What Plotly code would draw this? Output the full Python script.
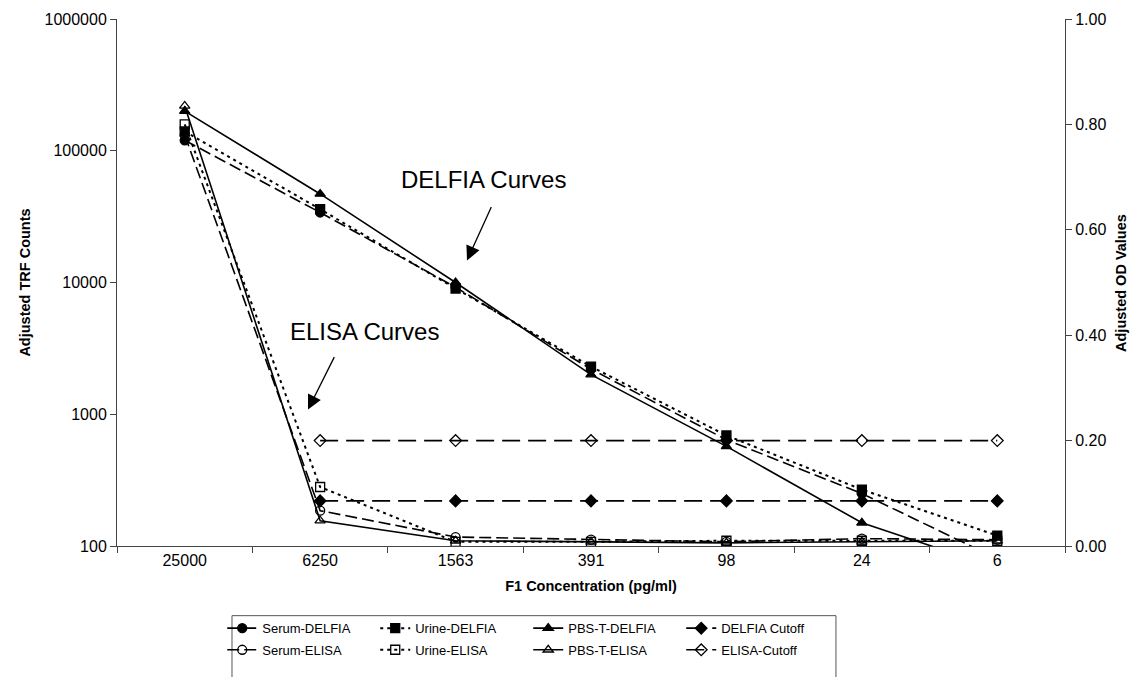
import plotly.graph_objects as go

# ---------------- data ----------------
categories = ["25000", "6250", "1563", "391", "98", "24", "6"]

serum_delfia = [120000, 34000, 9200, 2200, 640, 250, 80]
urine_delfia = [140000, 36000, 9000, 2300, 690, 268, 120]
pbst_delfia = [200000, 47000, 10000, 2000, 570, 150, 68]
delfia_cutoff = [None, 220, 220, 220, 220, 220, 220]

serum_elisa = [0.78, 0.067, 0.017, 0.012, 0.008, 0.014, 0.012]
urine_elisa = [0.80, 0.112, 0.008, 0.008, 0.010, 0.010, 0.010]
pbst_elisa = [0.835, 0.048, 0.010, 0.008, 0.006, 0.008, 0.010]
elisa_cutoff = [None, 0.20, 0.20, 0.20, 0.20, 0.20, 0.20]

left_tickvals = [100, 1000, 10000, 100000, 1000000]
left_ticktext = ["100", "1000", "10000", "100000", "1000000"]
right_tickvals = [0.0, 0.2, 0.4, 0.6, 0.8, 1.0]

FONT = "Liberation Sans, Arial, sans-serif"
BLACK = "#000000"
AXIS = "#444444"

fig = go.Figure()


def add(name, y, dash, symbol, axis, legend, width=1.6):
    fig.add_trace(go.Scatter(
        x=categories, y=y, name=name, mode="lines+markers",
        line=dict(color=BLACK, width=width, dash=dash),
        marker=dict(symbol=symbol, size=9, color=BLACK,
                    line=dict(color=BLACK, width=1.3)),
        yaxis=axis, legend=legend, connectgaps=False,
    ))


add("Serum-DELFIA", serum_delfia, "12px,5px", "circle", "y", "legend")
add("Urine-DELFIA", urine_delfia, "3px,4px", "square", "y", "legend", 2)
add("PBS-T-DELFIA", pbst_delfia, "solid", "triangle-up", "y", "legend")
add("DELFIA Cutoff", delfia_cutoff, "18px,8px", "diamond", "y", "legend")

add("Serum-ELISA", serum_elisa, "12px,5px", "circle-open", "y2", "legend2")
add("Urine-ELISA", urine_elisa, "3px,4px", "square-open", "y2", "legend2", 2)
add("PBS-T-ELISA", pbst_elisa, "solid", "triangle-up-open", "y2", "legend2")
add("ELISA-Cutoff", elisa_cutoff, "18px,8px", "diamond-open", "y2", "legend2")

legend_common = dict(
    orientation="h", xanchor="left", yanchor="middle",
    font=dict(family=FONT, size=13, color=BLACK),
    entrywidth=108, entrywidthmode="pixels", itemwidth=30,
    bgcolor="rgba(0,0,0,0)", traceorder="normal",
)

axis_common = dict(
    showline=True, linecolor=AXIS, linewidth=1,
    ticks="outside", ticklen=6, tickcolor=AXIS,
    showgrid=False, zeroline=False, automargin=False,
    tickfont=dict(family=FONT, size=16, color=BLACK),
)
title_font = dict(family=FONT, size=14.5, color=BLACK)

fig.update_layout(
    width=1135, height=677,
    margin=dict(l=117, r=70, t=19, b=121),
    paper_bgcolor="white", plot_bgcolor="white",
    font=dict(family=FONT, color=BLACK),
    showlegend=True,
    legend=dict(x=0.111, y=-0.156, **legend_common),
    legend2=dict(x=0.111, y=-0.197, **legend_common),
    xaxis=dict(
        type="category", range=[-0.5, 6.5], tickson="boundaries",
        title=dict(text="<b>F1 Concentration (pg/ml)</b>", standoff=12, font=title_font),
        **axis_common,
    ),
    yaxis=dict(
        type="log", range=[2, 6],
        tickvals=left_tickvals, ticktext=left_ticktext,
        title=dict(text="<b>Adjusted TRF Counts</b>", standoff=10, font=title_font),
        **axis_common,
    ),
    yaxis2=dict(
        overlaying="y", side="right", range=[0, 1],
        tickvals=right_tickvals, tickformat=".2f",
        **axis_common,
    ),
)

# right axis title placed explicitly so it stays inside the canvas
fig.add_annotation(x=1.0585, y=0.5, xref="paper", yref="paper",
                   text="<b>Adjusted OD Values</b>", textangle=-90,
                   showarrow=False, xanchor="center", yanchor="middle",
                   font=title_font)

# legend frame (top border visible in reference)
fig.add_shape(type="rect", xref="paper", yref="paper",
              x0=0.1213, x1=0.7584, y0=-0.1322, y1=-0.30,
              line=dict(color="#555555", width=1), fillcolor="rgba(0,0,0,0)")

# annotations: text labels
fig.add_annotation(x=0.3861, y=0.6946, xref="paper", yref="paper",
                   text="DELFIA Curves", showarrow=False,
                   xanchor="center", yanchor="middle",
                   font=dict(family=FONT, size=24, color=BLACK))
fig.add_annotation(x=0.2616, y=0.4078, xref="paper", yref="paper",
                   text="ELISA Curves", showarrow=False,
                   xanchor="center", yanchor="middle",
                   font=dict(family=FONT, size=24, color=BLACK))
# arrows
fig.add_annotation(x=0.3692, y=0.5419, xref="paper", yref="paper",
                   ax=25, ay=-55, text="", showarrow=True,
                   arrowhead=2, arrowsize=2.2, arrowwidth=1.3, arrowcolor=BLACK)
fig.add_annotation(x=0.2015, y=0.2588, xref="paper", yref="paper",
                   ax=27, ay=-54, text="", showarrow=True,
                   arrowhead=2, arrowsize=2.2, arrowwidth=1.3, arrowcolor=BLACK)

fig.write_html(
    "out.html",
    config={"displayModeBar": False},
    post_script="document.body.style.margin='0';document.body.style.overflow='hidden';",
)
